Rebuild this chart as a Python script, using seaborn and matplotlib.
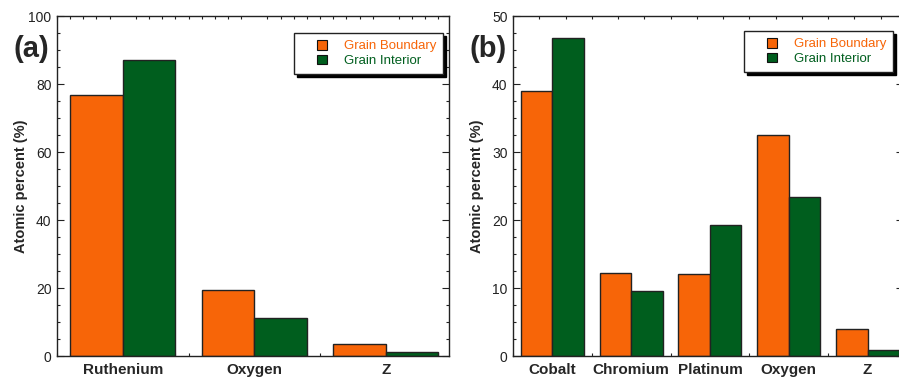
import numpy as np
import pandas as pd
import matplotlib
matplotlib.use("Agg")
import matplotlib.pyplot as plt
import seaborn as sns
from matplotlib.ticker import MultipleLocator, FixedLocator
from matplotlib.legend_handler import HandlerPatch

# ---- data ----
series = ["Grain Boundary", "Grain Interior"]
cats_a = ["Ruthenium", "Oxygen", "Z"]
gb_a = [76.8, 19.5, 3.4]
gi_a = [87.0, 11.2, 1.3]

cats_b = ["Cobalt", "Chromium", "Platinum", "Oxygen", "Z"]
gb_b = [39.0, 12.2, 12.0, 32.5, 4.0]
gi_b = [46.7, 9.6, 19.2, 23.4, 0.9]

colors = ["#F76508", "#005E1E"]

sns.set_theme(style="white")
plt.rcParams["font.family"] = ["Liberation Sans", "DejaVu Sans"]


def long_df(cats, gb, gi):
    return pd.DataFrame({
        "Element": cats * 2,
        "Series": [series[0]] * len(cats) + [series[1]] * len(cats),
        "Value": list(gb) + list(gi),
    })


def square_right(legend, orig_handle, xdescent, ydescent, width, height, fontsize):
    side = height * 0.9
    return plt.Rectangle((-xdescent + width - side, -ydescent + (height - side) / 2),
                         side, side)


fig = plt.figure(figsize=(8.99, 3.77), dpi=100)
ax1 = fig.add_axes([57 / 899, 21 / 377, 392 / 899, 340 / 377])
ax2 = fig.add_axes([513 / 899, 21 / 377, 390 / 899, 340 / 377])


def draw(ax, cats, gb, gi, ymax, ymaj, ymin, xminor, xright, label, lab_x, ylab_x, leg_anchor):
    df = long_df(cats, gb, gi)
    sns.barplot(data=df, x="Element", y="Value", hue="Series", order=cats,
                hue_order=series, palette=colors, width=0.8, ax=ax,
                edgecolor="#222222", linewidth=1.0, saturation=1, legend=False)
    ax.set_xlim(-0.5, xright)
    ax.set_ylim(0, ymax)
    ax.yaxis.set_major_locator(MultipleLocator(ymaj))
    ax.yaxis.set_minor_locator(MultipleLocator(ymin))
    ax.xaxis.set_minor_locator(FixedLocator(np.arange(-0.5, len(cats), xminor)))
    ax.tick_params(axis="x", which="major", length=0, pad=5, labelsize=11)
    for t in ax.get_xticklabels():
        t.set_fontweight("bold")
    ax.tick_params(axis="x", which="minor", direction="in", length=2.5,
                   width=0.8, bottom=True, top=True, color="#222222")
    ax.tick_params(axis="y", which="major", direction="in", length=5,
                   width=0.8, left=True, right=True, labelsize=10, pad=4,
                   color="#222222", labelcolor="#222222")
    ax.tick_params(axis="y", which="minor", direction="in", length=2.5,
                   width=0.8, left=True, right=True, color="#222222")
    for s in ax.spines.values():
        s.set_visible(True)
        s.set_color("#222222")
        s.set_linewidth(1.0)
    ax.set_xlabel("")
    ax.set_ylabel("")
    fig.text(ylab_x, 0.505, "Atomic percent (%)", rotation=90, ha="center",
             va="center", fontsize=10.5, fontweight="bold")
    fig.text(lab_x, 1 - 49 / 377, label, fontsize=21, fontweight="bold",
             ha="center", va="center")
    handles = [plt.Rectangle((0, 0), 1, 1, facecolor=c, edgecolor="#111111",
                             linewidth=0.8) for c in colors]
    leg = ax.legend(handles, series, loc="upper right",
                    bbox_to_anchor=leg_anchor,
                    frameon=True, fancybox=False,
                    shadow={"color": "black", "alpha": 1, "ox": 2.2, "oy": -2.2},
                    edgecolor="#222222", fontsize=9.5, handlelength=2.0,
                    handleheight=0.85, handletextpad=1.3, borderpad=0.5,
                    labelspacing=0.15, borderaxespad=0, labelcolor=colors,
                    handler_map={plt.Rectangle: HandlerPatch(patch_func=square_right)})
    leg.get_frame().set_linewidth(1.0)


draw(ax1, cats_a, gb_a, gi_a, 100, 20, 5, 0.1, 2.48, "(a)", 31 / 899, 21 / 899,
     ((443 - 57) / 392, (356 - 33) / 340))
draw(ax2, cats_b, gb_b, gi_b, 50, 10, 2.5, 1 / 3, 4.45, "(b)", 488 / 899, 477 / 899,
     ((893 - 513) / 390, (356 - 31) / 340))

fig.savefig("out.png", dpi=100, facecolor="white")
